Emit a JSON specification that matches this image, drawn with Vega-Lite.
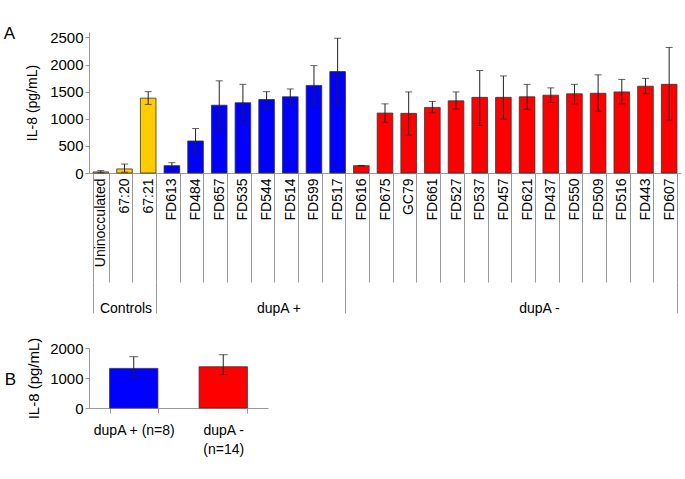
{
  "$schema": "https://vega.github.io/schema/vega-lite/v6.json",
  "background": "white",
  "padding": {"left": 3, "top": 25, "right": 3, "bottom": 5},
  "config": {
    "font": "Liberation Sans",
    "view": {"stroke": null},
    "axis": {"labelFont": "Liberation Sans", "titleFont": "Liberation Sans", "labelColor": "#000", "titleColor": "#000", "domainColor": "#999", "tickColor": "#999", "grid": false, "titleFontWeight": "normal"},
    "title": {"font": "Liberation Sans", "fontWeight": "normal", "fontSize": 17, "color": "#000"}
  },
  "spacing": 22,
  "resolve": {"scale": {"x": "independent", "y": "independent"}},
  "vconcat": [
    {
      "title": {"text": "A", "anchor": "start", "frame": "bounds", "dx": -22, "dy": 17},
      "width": 592,
      "height": 141,
      "data": {"values": [
        {"name": "Uninocculated", "group": "Controls", "mean": 20, "lo": 5, "hi": 45},
        {"name": "67:20", "group": "Controls", "mean": 75, "lo": 15, "hi": 165},
        {"name": "67:21", "group": "Controls", "mean": 1380, "lo": 1265, "hi": 1500},
        {"name": "FD613", "group": "dupA +", "mean": 135, "lo": 80, "hi": 190},
        {"name": "FD484", "group": "dupA +", "mean": 590, "lo": 355, "hi": 820},
        {"name": "FD657", "group": "dupA +", "mean": 1250, "lo": 790, "hi": 1700},
        {"name": "FD535", "group": "dupA +", "mean": 1295, "lo": 935, "hi": 1635},
        {"name": "FD544", "group": "dupA +", "mean": 1355, "lo": 1195, "hi": 1500},
        {"name": "FD514", "group": "dupA +", "mean": 1405, "lo": 1260, "hi": 1550},
        {"name": "FD599", "group": "dupA +", "mean": 1615, "lo": 1260, "hi": 1980},
        {"name": "FD517", "group": "dupA +", "mean": 1870, "lo": 1255, "hi": 2485},
        {"name": "FD616", "group": "dupA -", "mean": 135, "lo": 130, "hi": 140},
        {"name": "FD675", "group": "dupA -", "mean": 1105, "lo": 935, "hi": 1275},
        {"name": "GC79", "group": "dupA -", "mean": 1100, "lo": 700, "hi": 1495},
        {"name": "FD661", "group": "dupA -", "mean": 1210, "lo": 1110, "hi": 1320},
        {"name": "FD527", "group": "dupA -", "mean": 1330, "lo": 1180, "hi": 1495},
        {"name": "FD537", "group": "dupA -", "mean": 1395, "lo": 875, "hi": 1890},
        {"name": "FD457", "group": "dupA -", "mean": 1395, "lo": 995, "hi": 1790},
        {"name": "FD621", "group": "dupA -", "mean": 1405, "lo": 1175, "hi": 1635},
        {"name": "FD437", "group": "dupA -", "mean": 1435, "lo": 1300, "hi": 1570},
        {"name": "FD550", "group": "dupA -", "mean": 1460, "lo": 1275, "hi": 1635},
        {"name": "FD509", "group": "dupA -", "mean": 1470, "lo": 1140, "hi": 1810},
        {"name": "FD516", "group": "dupA -", "mean": 1495, "lo": 1275, "hi": 1725},
        {"name": "FD443", "group": "dupA -", "mean": 1600, "lo": 1460, "hi": 1745},
        {"name": "FD607", "group": "dupA -", "mean": 1635, "lo": 975, "hi": 2315}
      ]},
      "resolve": {"axis": {"x": "independent"}},
      "layer": [
        {
          "mark": {"type": "bar", "stroke": "#333", "strokeWidth": 0.8},
          "encoding": {
            "x": {"field": "name", "type": "nominal", "sort": null,
              "scale": {"paddingInner": 0.34, "paddingOuter": 0.17},
              "axis": {"title": null, "orient": "bottom", "labelAngle": 270, "labelFontSize": 14, "tickBand": "extent", "tickSize": 109, "labelPadding": -104}},
            "y": {"field": "mean", "type": "quantitative", "title": "IL-8 (pg/mL)",
              "scale": {"domain": [0, 2500]},
              "axis": {"values": [0, 500, 1000, 1500, 2000, 2500], "format": "d", "labelFontSize": 15, "titleFontSize": 14, "tickSize": 4, "labelPadding": 2, "titlePadding": 10}},
            "color": {"field": "group", "type": "nominal",
              "scale": {"domain": ["Controls", "dupA +", "dupA -"], "range": ["#FFCC00", "#0000FF", "#FF0000"]},
              "legend": null}
          }
        },
        {
          "mark": {"type": "rule", "color": "#222", "strokeWidth": 1},
          "encoding": {
            "x": {"field": "name", "type": "nominal", "sort": null,
              "axis": {"title": null, "orient": "bottom", "offset": 109, "domain": false, "tickBand": "extent", "tickSize": 31,
                "tickOpacity": {"condition": {"test": "!datum.value || indexof(['67:21','FD517','FD607'], datum.value) >= 0", "value": 1}, "value": 0},
                "labelAngle": 0, "labelFontSize": 14, "labelPadding": -12,
                "labelExpr": "datum.value == '67:20' ? 'Controls' : datum.value == 'FD544' ? 'dupA +' : datum.value == 'FD621' ? 'dupA -' : ''",
                "labelOffset": {"condition": {"test": "datum.value == 'FD544' || datum.value == 'FD621'", "value": 11.84}, "value": 1}}},
            "y": {"field": "lo", "type": "quantitative", "title": "IL-8 (pg/mL)",
              "axis": {"values": [0, 500, 1000, 1500, 2000, 2500], "format": "d", "labelFontSize": 15, "titleFontSize": 14, "tickSize": 4, "labelPadding": 2, "titlePadding": 10}},
            "y2": {"field": "hi"}
          }
        },
        {
          "mark": {"type": "tick", "orient": "horizontal", "size": 7, "thickness": 1, "color": "#222"},
          "encoding": {
            "x": {"field": "name", "type": "nominal", "sort": null, "axis": null},
            "y": {"field": "hi", "type": "quantitative", "title": "IL-8 (pg/mL)",
              "axis": {"values": [0, 500, 1000, 1500, 2000, 2500], "format": "d", "labelFontSize": 15, "titleFontSize": 14, "tickSize": 4, "labelPadding": 2, "titlePadding": 10}}
          }
        },
        {
          "mark": {"type": "tick", "orient": "horizontal", "size": 7, "thickness": 1, "color": "#222"},
          "encoding": {
            "x": {"field": "name", "type": "nominal", "sort": null, "axis": null},
            "y": {"field": "lo", "type": "quantitative", "title": "IL-8 (pg/mL)",
              "axis": {"values": [0, 500, 1000, 1500, 2000, 2500], "format": "d", "labelFontSize": 15, "titleFontSize": 14, "tickSize": 4, "labelPadding": 2, "titlePadding": 10}}
          }
        }
      ]
    },
    {
      "title": {"text": "B", "anchor": "start", "frame": "bounds", "dx": -22, "dy": 56},
      "width": 179,
      "height": 60,
      "data": {"values": [
        {"name": "dupA + (n=8)", "group": "dupA +", "mean": 1320, "lo": 1040, "hi": 1710},
        {"name": "dupA - (n=14)", "group": "dupA -", "mean": 1375, "lo": 1110, "hi": 1775}
      ]},
      "layer": [
        {
          "mark": {"type": "bar", "stroke": "#333", "strokeWidth": 0.8},
          "encoding": {
            "x": {"field": "name", "type": "nominal", "sort": null,
              "scale": {"paddingInner": 0.46, "paddingOuter": 0.23},
              "axis": {"title": null, "labelAngle": 0, "labelFontSize": 14, "tickBand": "extent", "tickSize": 5, "labelPadding": 10, "labelLineHeight": 19,
                "labelExpr": "datum.value == 'dupA - (n=14)' ? ['dupA -', '(n=14)'] : datum.label"}},
            "y": {"field": "mean", "type": "quantitative", "title": "IL-8 (pg/mL)",
              "scale": {"domain": [0, 2000]},
              "axis": {"values": [0, 1000, 2000], "format": "d", "labelFontSize": 15, "titleFontSize": 15, "tickSize": 4, "labelPadding": 2, "titlePadding": 8}},
            "color": {"field": "group", "type": "nominal",
              "scale": {"domain": ["Controls", "dupA +", "dupA -"], "range": ["#FFCC00", "#0000FF", "#FF0000"]},
              "legend": null}
          }
        },
        {
          "mark": {"type": "rule", "color": "#222", "strokeWidth": 1},
          "encoding": {
            "x": {"field": "name", "type": "nominal", "sort": null,
              "axis": {"title": null, "labelAngle": 0, "labelFontSize": 14, "tickBand": "extent", "tickSize": 5, "labelPadding": 10, "labelLineHeight": 19,
                "labelExpr": "datum.value == 'dupA - (n=14)' ? ['dupA -', '(n=14)'] : datum.label"}},
            "y": {"field": "lo", "type": "quantitative", "title": "IL-8 (pg/mL)",
              "axis": {"values": [0, 1000, 2000], "format": "d", "labelFontSize": 15, "titleFontSize": 15, "tickSize": 4, "labelPadding": 2, "titlePadding": 8}},
            "y2": {"field": "hi"}
          }
        },
        {
          "mark": {"type": "tick", "orient": "horizontal", "size": 9, "thickness": 1, "color": "#222"},
          "encoding": {
            "x": {"field": "name", "type": "nominal", "sort": null,
              "axis": {"title": null, "labelAngle": 0, "labelFontSize": 14, "tickBand": "extent", "tickSize": 5, "labelPadding": 10, "labelLineHeight": 19,
                "labelExpr": "datum.value == 'dupA - (n=14)' ? ['dupA -', '(n=14)'] : datum.label"}},
            "y": {"field": "hi", "type": "quantitative", "title": "IL-8 (pg/mL)",
              "axis": {"values": [0, 1000, 2000], "format": "d", "labelFontSize": 15, "titleFontSize": 15, "tickSize": 4, "labelPadding": 2, "titlePadding": 8}}
          }
        },
        {
          "mark": {"type": "tick", "orient": "horizontal", "size": 9, "thickness": 1, "color": "#222"},
          "encoding": {
            "x": {"field": "name", "type": "nominal", "sort": null,
              "axis": {"title": null, "labelAngle": 0, "labelFontSize": 14, "tickBand": "extent", "tickSize": 5, "labelPadding": 10, "labelLineHeight": 19,
                "labelExpr": "datum.value == 'dupA - (n=14)' ? ['dupA -', '(n=14)'] : datum.label"}},
            "y": {"field": "lo", "type": "quantitative", "title": "IL-8 (pg/mL)",
              "axis": {"values": [0, 1000, 2000], "format": "d", "labelFontSize": 15, "titleFontSize": 15, "tickSize": 4, "labelPadding": 2, "titlePadding": 8}}
          }
        }
      ]
    }
  ]
}
